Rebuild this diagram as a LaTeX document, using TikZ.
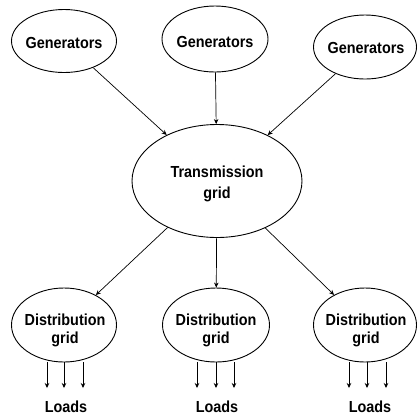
\documentclass[tikz,border=0pt]{standalone}
\usepackage{fontspec}
\setmainfont{Liberation Sans}
\newfontfamily\narrowsans[FakeStretch=0.9]{Liberation Sans}
\usetikzlibrary{shapes.geometric,arrows.meta}
\begin{document}
\begin{tikzpicture}[x=1pt,y=-1pt,
  blob/.style={draw, ellipse, inner sep=0pt, line width=0.9pt},
  txt/.style={inner sep=0pt, align=center, font=\narrowsans\bfseries\fontsize{16}{18}\selectfont},
  feed/.style={-{Stealth[length=5pt,width=4.5pt]}, line width=0.7pt}]
\useasboundingbox (0,0) rectangle (417,416);

% generators
\node[blob, minimum width=105pt, minimum height=63pt] (g1) at (64,41) {};
\node[blob, minimum width=106pt, minimum height=66pt] (g2) at (215,39) {};
\node[blob, minimum width=103pt, minimum height=64pt] (g3) at (365,47) {};
\node[txt] (g1t) at (64,43) {Generators};
\node[txt] (g2t) at (215,42) {Generators};
\node[txt] (g3t) at (366,48) {Generators};

% transmission grid
\node[blob, minimum width=170pt, minimum height=113pt] (t) at (217,181) {};
\node[txt, font=\narrowsans\bfseries\fontsize{16}{21}\selectfont] (tt) at (217,184) {Transmission\\grid};

% distribution grids
\node[blob, minimum width=105pt, minimum height=74pt] (d1) at (64,325) {};
\node[blob, minimum width=107pt, minimum height=74pt] (d2) at (216,325) {};
\node[blob, minimum width=103pt, minimum height=74pt] (d3) at (365,325) {};
\node[txt] (d1t) at (65,330) {Distribution\\grid};
\node[txt] (d2t) at (216,330) {Distribution\\grid};
\node[txt] (d3t) at (366,330) {Distribution\\grid};

% loads
\node[txt] (l1) at (66,407) {Loads};
\node[txt] (l2) at (217,407) {Loads};
\node[txt] (l3) at (370,407) {Loads};

% generators feed the transmission grid
\draw[feed] (g1) -- (t);
\draw[feed] (g2) -- (t);
\draw[feed] (g3) -- (t);

% transmission grid feeds the distribution grids
\draw[feed] (t) -- (d1);
\draw[feed] (t) -- (d2);
\draw[feed] (t) -- (d3);

% ends of the load arrows
\coordinate (d1a) at (47,388);  \coordinate (d1b) at (64,388);  \coordinate (d1c) at (83,388);
\coordinate (d2a) at (197,388); \coordinate (d2b) at (216,388); \coordinate (d2c) at (234,388);
\coordinate (d3a) at (349,388); \coordinate (d3b) at (367,388); \coordinate (d3c) at (386,388);

\foreach \d in {d1,d2,d3}{
  \draw[feed] (\d.south -| \d a) -- (\d a);
  \draw[feed] (\d.south -| \d b) -- (\d b);
  \draw[feed] (\d.south -| \d c) -- (\d c);
}
\end{tikzpicture}
\end{document}
